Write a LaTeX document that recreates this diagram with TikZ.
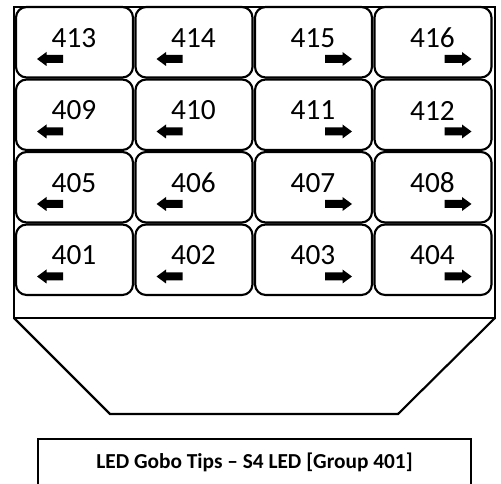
\documentclass[tikz,border=0pt]{standalone}
\usepackage{fontspec}
\setmainfont{Carlito}
\begin{document}
\begin{tikzpicture}[x=0.75pt,y=0.75pt,yscale=-1,xscale=1,
	cellbox/.style={line width=1.6pt, rounded corners=8pt},
	numtext/.style={font=\fontsize{22}{25}\selectfont, inner sep=0pt},
	tipblock/.style={fill=black, draw=none}]
	\useasboundingbox (0,0) rectangle (501,484);

	%Shape: Rectangle [outer frame]
	\draw  [line width=1.6pt] (14,7) rectangle (495,318) ;
	%Shape: Trapezoid
	\draw  [line width=1.6pt] (14,318) -- (110,414) -- (398,414) -- (495,318) ;

	% cells, numbers and arrows
	\foreach \r in {0,...,3}{
		\foreach \c in {0,...,3}{
			\pgfmathsetmacro{\lx}{16+119.5*\c}
			\pgfmathsetmacro{\ty}{7+72.5*\r}
			\pgfmathtruncatemacro{\num}{413+\c-4*\r}
			\draw  [cellbox, fill=white] (\lx,\ty) rectangle ({\lx+117},{\ty+70.5}) ;
			% Text Node
			\node [numtext] (t\num) at ({\lx+58},{\ty+31}) {\num};
			\ifnum\c<2
				\fill  [tipblock] ({\lx+21},{\ty+52}) -- ({\lx+30.5},{\ty+45}) -- ({\lx+30.5},{\ty+48}) -- ({\lx+47},{\ty+48}) -- ({\lx+47},{\ty+56}) -- ({\lx+30.5},{\ty+56}) -- ({\lx+30.5},{\ty+59}) -- cycle ;
			\else
				\fill  [tipblock] ({\lx+97},{\ty+52}) -- ({\lx+87.5},{\ty+45}) -- ({\lx+87.5},{\ty+48}) -- ({\lx+70},{\ty+48}) -- ({\lx+70},{\ty+56}) -- ({\lx+87.5},{\ty+56}) -- ({\lx+87.5},{\ty+59}) -- cycle ;
			\fi
		}
	}

	%Shape: Rectangle [caption box]
	\draw  [line width=1.1pt] (38,439) rectangle (471,495) ;
	% Text Node
	\node [font=\bfseries\fontsize{16}{19}\selectfont] (caption) at (254.5,462) {LED Gobo Tips – S4 LED [Group 401]};
\end{tikzpicture}
\end{document}
